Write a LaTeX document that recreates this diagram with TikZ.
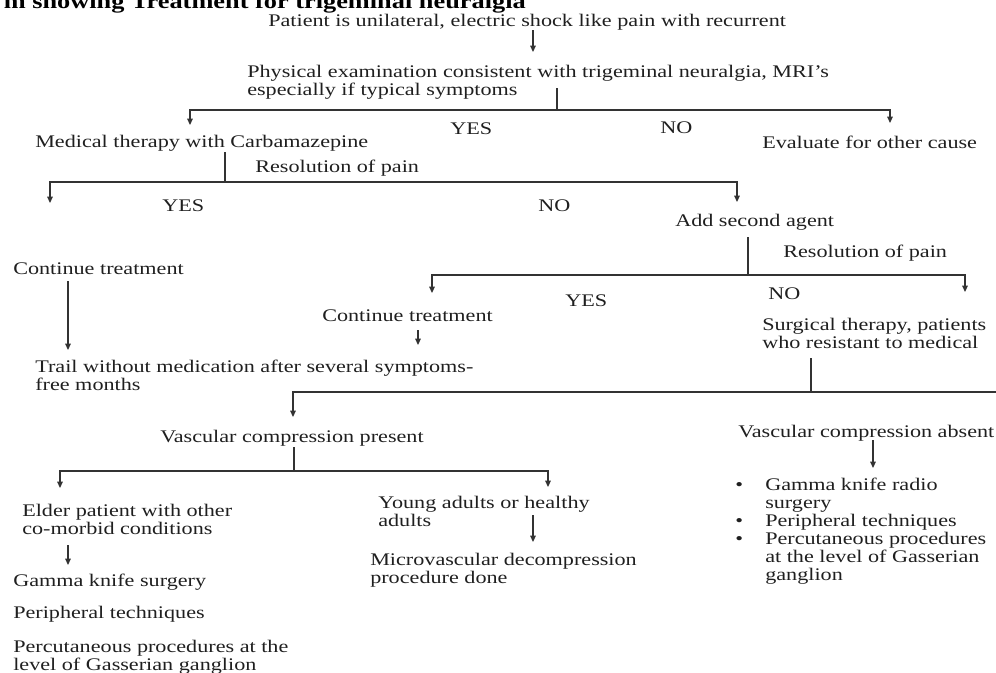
\documentclass[tikz,border=0pt]{standalone}
\usepackage{fontspec}
\setmainfont{Liberation Serif}[FakeStretch=1.25]
\usetikzlibrary{arrows.meta}
\newcommand{\ml}[1]{\begin{tabular}[t]{@{}l@{}}#1\end{tabular}}
\newcommand{\bul}{\makebox[22.5pt][l]{•}}
\newcommand{\nobul}{\hspace*{22.5pt}}
\begin{document}
\begin{tikzpicture}[x=0.75pt,y=-0.75pt,
  txt/.style={anchor=base west,inner sep=0pt,text=black!88,font=\fontsize{13.3}{13.6}\selectfont},
  titletxt/.style={anchor=base east,inner sep=0pt,text=black,font=\fontsize{15.8}{18}\selectfont\bfseries},
  ln/.style={draw=black!80,line width=0.9pt},
  arr/.style={ln,-{Triangle[length=4.8pt,width=4.2pt]}}]
\useasboundingbox (0,0) rectangle (996,672);
\clip (0,0) rectangle (996,672);

% texts
\node[titletxt] (title) at (526,8) {m showing Treatment for trigeminal neuralgia};
\node[txt] (patient) at (268,26) {Patient is unilateral, electric shock like pain with recurrent};
\node[txt] (physical) at (247,77) {\ml{Physical examination consistent with trigeminal neuralgia, MRI’s\\especially if typical symptoms}};
\node[txt] (yes1) at (450,134) {YES};
\node[txt] (no1) at (660,133) {NO};
\node[txt] (evaluate) at (762,148) {Evaluate for other cause};
\node[txt] (medical) at (35,147) {Medical therapy with Carbamazepine};
\node[txt] (res1) at (255,172) {Resolution of pain};
\node[txt] (yes2) at (162,211) {YES};
\node[txt] (no2) at (538,211) {NO};
\node[txt] (second) at (675,226) {Add second agent};
\node[txt] (res2) at (783,257) {Resolution of pain};
\node[txt] (cont1) at (13,274) {Continue treatment};
\node[txt] (yes3) at (565,306) {YES};
\node[txt] (no3) at (768,299) {NO};
\node[txt] (cont2) at (322,321) {Continue treatment};
\node[txt] (surg) at (762,330) {\ml{Surgical therapy, patients\\who resistant to medical}};
\node[txt] (trail) at (35,372) {\ml{Trail without medication after several symptoms-\\free months}};
\node[txt] (vpres) at (160,442) {Vascular compression present};
\node[txt] (vabs) at (738,437) {Vascular compression absent};
\node[txt] (abslist) at (735,490) {\ml{\bul Gamma knife radio\\\nobul surgery\\\bul Peripheral techniques\\\bul Percutaneous procedures\\\nobul at the level of Gasserian\\\nobul ganglion}};
\node[txt] (elder) at (22,516) {\ml{Elder patient with other\\co-morbid conditions}};
\node[txt] (young) at (378,508) {\ml{Young adults or healthy\\adults}};
\node[txt] (micro) at (370,565) {\ml{Microvascular decompression\\procedure done}};
\node[txt] (gamma) at (13,586) {Gamma knife surgery};
\node[txt] (periph) at (13,618) {Peripheral techniques};
\node[txt] (percut) at (13,652) {\ml{Percutaneous procedures at the\\level of Gasserian ganglion}};

% connector points
\coordinate (c1a) at (533,30);  \coordinate (c1b) at (533,52);
\coordinate (j1t) at (557,88);  \coordinate (j1) at (557,110);
\coordinate (t1L) at (190,125); \coordinate (t1R) at (890,123);
\coordinate (j2t) at (225,152); \coordinate (j2) at (225,182);
\coordinate (t2L) at (50,203);  \coordinate (t2R) at (737,202);
\coordinate (c3a) at (68,281);  \coordinate (c3b) at (68,350);
\coordinate (j3t) at (748,237); \coordinate (j3) at (748,275);
\coordinate (t3L) at (432,293); \coordinate (t3R) at (965,292);
\coordinate (c4a) at (418,330); \coordinate (c4b) at (418,345);
\coordinate (j4t) at (811,358); \coordinate (j4) at (811,392);
\coordinate (t4L) at (293,417); \coordinate (t4R) at (1002,410);
\coordinate (j5t) at (294,447); \coordinate (j5) at (294,471);
\coordinate (t5L) at (60,488);  \coordinate (t5R) at (548,487);
\coordinate (c6a) at (873,440); \coordinate (c6b) at (873,468);
\coordinate (c7a) at (68,545);  \coordinate (c7b) at (68,565);
\coordinate (c8a) at (533,515); \coordinate (c8b) at (533,542);

% connectors
\draw[arr] (c1a) -- (c1b);
\draw[ln] (j1t) -- (j1);
\draw[arr] (j1) -| (t1L);
\draw[arr] (j1) -| (t1R);
\draw[ln] (j2t) -- (j2);
\draw[arr] (j2) -| (t2L);
\draw[arr] (j2) -| (t2R);
\draw[arr] (c3a) -- (c3b);
\draw[ln] (j3t) -- (j3);
\draw[arr] (j3) -| (t3L);
\draw[arr] (j3) -| (t3R);
\draw[arr] (c4a) -- (c4b);
\draw[ln] (j4t) -- (j4);
\draw[arr] (j4) -| (t4L);
\draw[arr] (j4) -| (t4R);
\draw[ln] (j5t) -- (j5);
\draw[arr] (j5) -| (t5L);
\draw[arr] (j5) -| (t5R);
\draw[arr] (c6a) -- (c6b);
\draw[arr] (c7a) -- (c7b);
\draw[arr] (c8a) -- (c8b);
\end{tikzpicture}
\end{document}
